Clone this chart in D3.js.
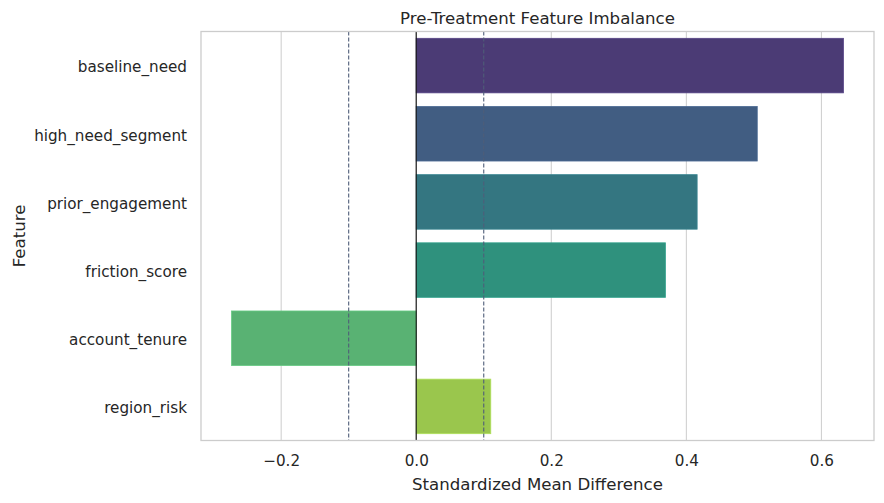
<!DOCTYPE html>
<html lang="en">
<head>
    <meta charset="UTF-8">
    <script src="https://cdn.jsdelivr.net/npm/d3@7"></script>
    <title>Pre-Treatment Feature Imbalance</title>
    <style>
        body { margin: 0; background: #fff; }
        text { font-family: "DejaVu Sans", sans-serif; fill: #262626; }
    </style>
</head>
<body>
    <script>
        const features = ["baseline_need", "high_need_segment", "prior_engagement", "friction_score", "account_tenure", "region_risk"];
        const smd = [0.6326, 0.505, 0.416, 0.369, -0.2734, 0.1104];
        const xTicks = [-0.2, 0.0, 0.2, 0.4, 0.6];
        const thresholds = [-0.1, 0.1];

        const w = 884;
        const h = 503;
        const plot = {left: 201, right: 874, top: 31.5, bottom: 440.5};

        // seaborn-like palette: viridis sampled inside the ends, desaturated a bit
        function barColor(i) {
            const c = d3.hsl(d3.interpolateViridis((i + 1) / (features.length + 1)));
            c.s *= 0.75;
            return c.formatHex();
        }

        const xMin = d3.min(smd), xMax = d3.max(smd);
        const pad = (xMax - Math.min(0, xMin)) * 0.05;
        const x = d3.scaleLinear()
                    .domain([Math.min(0, xMin) - pad, xMax + pad])
                    .range([plot.left, plot.right]);

        const y = d3.scaleBand()
                    .domain(features)
                    .range([plot.top, plot.bottom])
                    .paddingInner(0.2)
                    .paddingOuter(0.1);

        const svg = d3.select("body")
                        .append("svg")
                        .attr("width", w)
                        .attr("height", h);

        // grid
        svg.append("g")
            .selectAll("line")
            .data(xTicks)
            .enter()
            .append("line")
            .attr("x1", d => x(d))
            .attr("x2", d => x(d))
            .attr("y1", plot.top)
            .attr("y2", plot.bottom)
            .attr("stroke", "#cccccc")
            .attr("stroke-width", 1);

        // bars
        svg.append("g")
            .selectAll("rect")
            .data(features)
            .enter()
            .append("rect")
            .attr("x", (d, i) => x(Math.min(0, smd[i])))
            .attr("width", (d, i) => Math.abs(x(smd[i]) - x(0)))
            .attr("y", d => y(d))
            .attr("height", y.bandwidth())
            .attr("fill", (d, i) => barColor(i))
            .attr("stroke", (d, i) => d3.color(barColor(i)).brighter(0.35))
            .attr("stroke-width", 0.8);

        // threshold lines
        svg.append("g")
            .selectAll("line")
            .data(thresholds)
            .enter()
            .append("line")
            .attr("x1", d => x(d))
            .attr("x2", d => x(d))
            .attr("y1", plot.top)
            .attr("y2", plot.bottom)
            .attr("stroke", "#4f5d78")
            .attr("stroke-width", 1.1)
            .attr("stroke-dasharray", "4,2");

        // zero line
        svg.append("line")
            .attr("x1", x(0))
            .attr("x2", x(0))
            .attr("y1", plot.top)
            .attr("y2", plot.bottom)
            .attr("stroke", "#111")
            .attr("stroke-width", 1.1);

        // frame
        svg.append("rect")
            .attr("x", plot.left)
            .attr("y", plot.top)
            .attr("width", plot.right - plot.left)
            .attr("height", plot.bottom - plot.top)
            .attr("fill", "none")
            .attr("stroke", "#cccccc")
            .attr("stroke-width", 1.3);

        // axes
        const xAxis = d3.axisBottom(x)
                        .tickValues(xTicks)
                        .tickSize(0)
                        .tickPadding(15)
                        .tickFormat(d => d3.format(".1f")(d).replace("-", "\u2212"));
        svg.append("g")
            .attr("transform", "translate(0," + plot.bottom + ")")
            .call(xAxis)
            .call(g => g.select(".domain").remove())
            .selectAll("text")
            .style("font-size", "15.2px")
            .style("font-family", "DejaVu Sans, sans-serif")
            .attr("fill", "#262626");

        const yAxis = d3.axisLeft(y)
                        .tickSize(0)
                        .tickPadding(14);
        svg.append("g")
            .attr("transform", "translate(" + plot.left + ",2)")
            .call(yAxis)
            .call(g => g.select(".domain").remove())
            .selectAll("text")
            .style("font-size", "15.2px")
            .style("font-family", "DejaVu Sans, sans-serif")
            .attr("fill", "#262626");

        // labels
        const midX = (plot.left + plot.right) / 2;
        svg.append("text")
            .attr("x", midX)
            .attr("y", 24)
            .attr("text-anchor", "middle")
            .style("font-size", "16.6px")
            .text("Pre-Treatment Feature Imbalance");

        svg.append("text")
            .attr("x", midX)
            .attr("y", 490)
            .attr("text-anchor", "middle")
            .style("font-size", "16.6px")
            .text("Standardized Mean Difference");

        svg.append("text")
            .attr("transform", "translate(25," + (plot.top + plot.bottom) / 2 + ") rotate(-90)")
            .attr("text-anchor", "middle")
            .style("font-size", "16.6px")
            .text("Feature");
    </script>
</body>
</html>
